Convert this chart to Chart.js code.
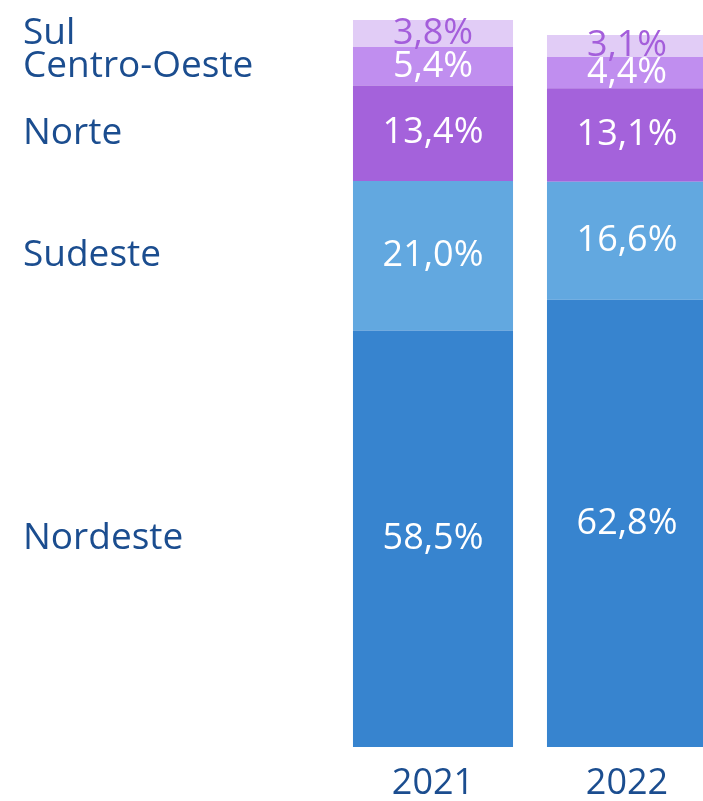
<!DOCTYPE html>
<html><head><meta charset="utf-8">
<script src="https://cdn.jsdelivr.net/npm/chart.js@4"></script>
<style>
html,body{margin:0;padding:0;background:#fff;overflow:hidden;width:703px;height:801px;}
#wrap{width:724px;height:801px;}
</style></head>
<body>
<div id="wrap"><canvas id="c" width="724" height="801"></canvas></div>
<script>
const years = ['2021', '2022'];
const regions = ['Nordeste', 'Sudeste', 'Norte', 'Centro-Oeste', 'Sul'];
const nordeste = [58.5, 62.8];
const sudeste = [21.0, 16.6];
const norte = [13.4, 13.1];
const centroOeste = [5.4, 4.4];
const sul = [3.8, 3.1];
const seriesValues = [nordeste, sudeste, norte, centroOeste, sul];
const colors = ['#3784CF', '#62A8E0', '#A462DB', '#C08EEF', '#E1CCF6'];
const labelColors = ['#FFFFFF', '#FFFFFF', '#FFFFFF', '#FFFFFF', '#A45EDB'];
const FONT = '"Open Sans", sans-serif';
const BLUE = '#1B4D8F';

const fmt = v => v.toFixed(1).replace('.', ',') + '%';

const labelsPlugin = {
  id: 'labelsPlugin',
  afterDatasetsDraw(chart) {
    const ctx = chart.ctx;
    ctx.save();
    ctx.font = '400 36px ' + FONT;
    ctx.textAlign = 'center';
    ctx.textBaseline = 'middle';
    chart.data.datasets.forEach((ds, di) => {
      const meta = chart.getDatasetMeta(di);
      meta.data.forEach((bar, i) => {
        const cy = (bar.y + bar.base) / 2;
        ctx.fillStyle = labelColors[di];
        ctx.fillText(fmt(ds.data[i]), bar.x, cy);
      });
      const b0 = meta.data[0];
      ctx.save();
      ctx.textAlign = 'left';
      ctx.fillStyle = BLUE;
      ctx.font = '400 37px ' + FONT;
      ctx.fillText(ds.label, 23, (b0.y + b0.base) / 2);
      ctx.restore();
    });
    // year labels under each bar
    const xs = chart.scales.x;
    ctx.fillStyle = BLUE;
    ctx.font = '400 36px ' + FONT;
    years.forEach((y, i) => {
      ctx.fillText(y, xs.getPixelForValue(i), chart.chartArea.bottom + 37);
    });
    ctx.restore();
  }
};

new Chart(document.getElementById('c'), {
  type: 'bar',
  data: {
    labels: years,
    datasets: regions.map((r, i) => ({
      label: r,
      data: seriesValues[i],
      backgroundColor: colors[i],
      borderWidth: 0,
      barPercentage: 0.825,
      categoryPercentage: 1.0
    }))
  },
  options: {
    responsive: false,
    animation: false,
    devicePixelRatio: 1,
    layout: { padding: { left: 336, top: 20, right: 0, bottom: 54 } },
    plugins: { legend: { display: false }, tooltip: { enabled: false } },
    scales: {
      x: {
        stacked: true,
        display: false
      },
      y: {
        stacked: true,
        display: false,
        min: 0,
        max: 102.1
      }
    }
  },
  plugins: [labelsPlugin]
});
</script>
</body></html>
